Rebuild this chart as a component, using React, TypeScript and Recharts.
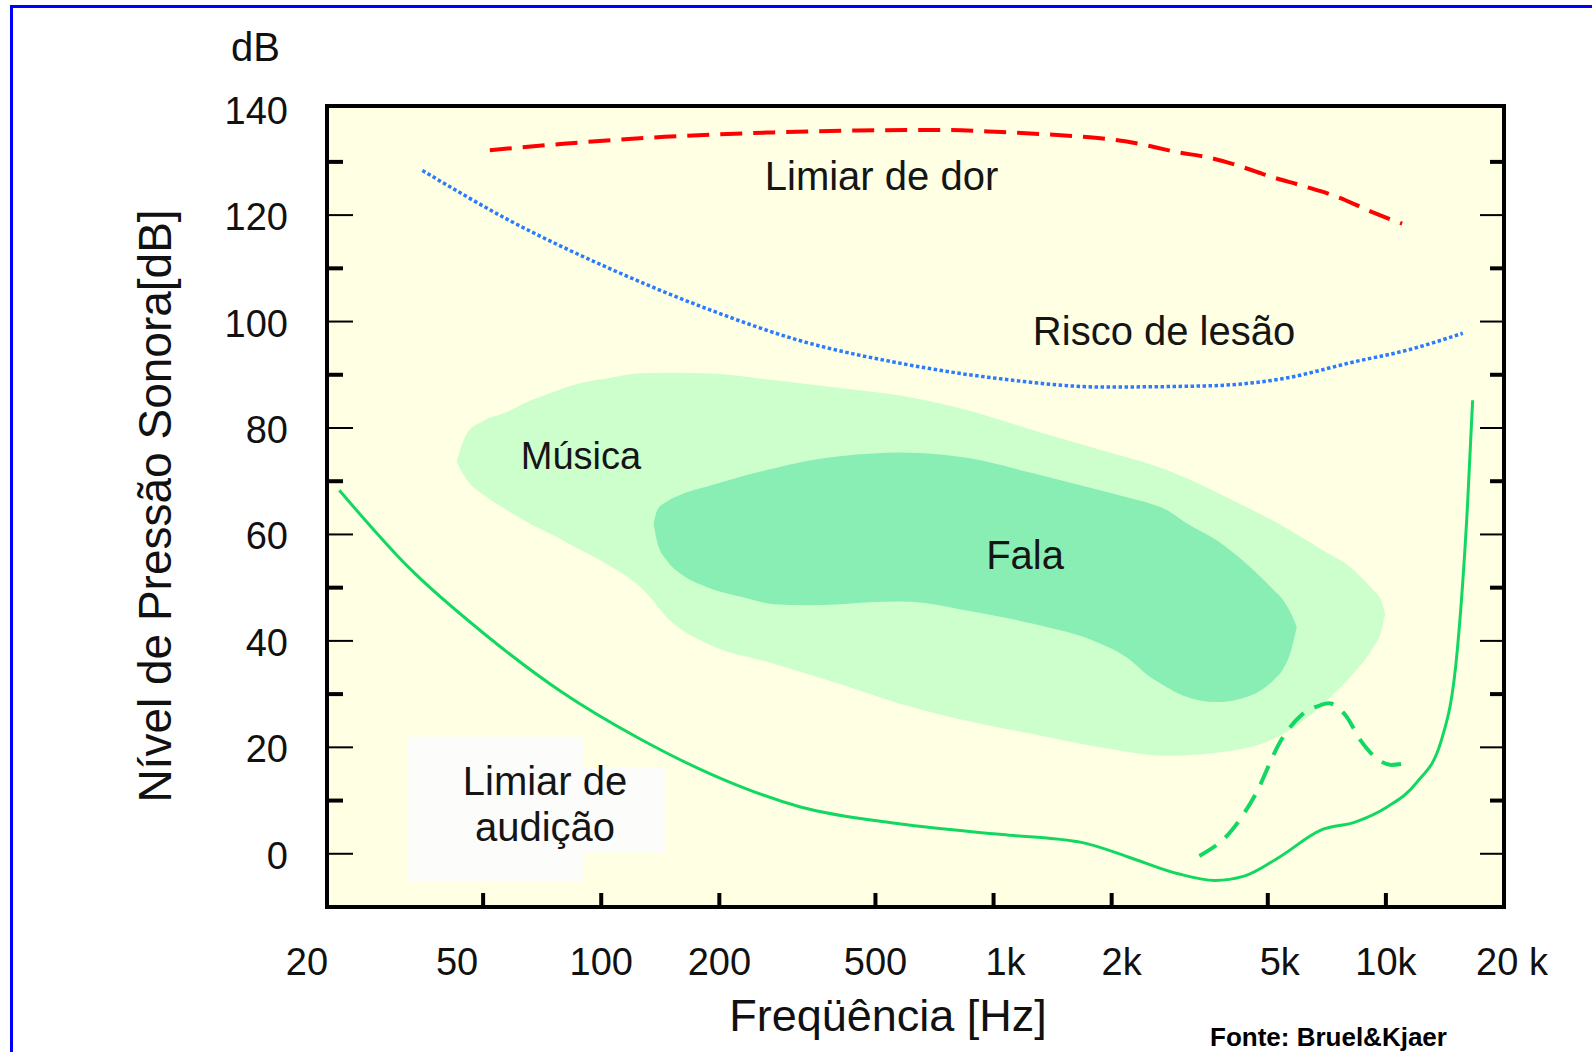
import { Area, CartesianGrid, ComposedChart, Line, ReferenceArea, ReferenceDot, XAxis, YAxis } from "recharts";

const FONT = '"Liberation Sans", Arial, sans-serif';

// eixo X (Hz, log) e eixo Y (dB)
const xTicks = [20, 50, 100, 200, 500, 1000, 2000, 5000, 10000, 20000];
const xTickLabels = ["20", "50", "100", "200", "500", "1k", "2k", "5k", "10k", "20 k"];
const yTicks = [0, 10, 20, 30, 40, 50, 60, 70, 80, 90, 100, 110, 120, 130, 140];

// Limiar de dor
const dorFreq = [52, 80, 145, 265, 450, 750, 1050, 1550, 2000, 2500, 2900, 3550, 4200, 5100, 6200, 7600, 9200, 11000];
const dorDb = [132.2, 133.4, 134.7, 135.5, 135.9, 136.0, 135.6, 134.9, 134.2, 133.0, 131.9, 130.8, 129.3, 127.2, 125.4, 123.3, 120.6, 118.4];

// Risco de lesão
const lesaoFreq = [35, 58, 107, 194, 318, 584, 1053, 1900, 3450, 5390, 8380, 11300, 15700];
const lesaoDb = [128.4, 119.1, 109.7, 101.9, 96.5, 92.1, 89.2, 87.7, 87.9, 89.2, 92.5, 94.6, 97.8];

// Limiar de audição
const audicaoFreq = [21.5, 32.2, 50.4, 79.3, 124, 194, 322, 580, 1053, 1687, 2205, 2972, 3660, 4352, 5360, 6805, 8381, 10024, 11990, 13832, 15212, 16150, 16636];
const audicaoDb = [68.3, 53.9, 41.3, 30.4, 21.8, 14.7, 8.8, 5.6, 3.6, 2.1, -0.6, -3.8, -5.0, -4.2, -0.6, 4.4, 6.0, 8.7, 13.4, 21.2, 38.4, 65.7, 85.2];

// limiar com perda (tracejado)
const perdaFreq = [3347, 4003, 4646, 5393, 6074, 6805, 7136, 7898, 8638, 9446, 10328, 11425];
const perdaDb = [-0.4, 4.0, 11.1, 21.2, 26.0, 27.9, 28.3, 26.0, 21.2, 18.0, 16.7, 17.1];

// Música (faixa)
const musicaFreq = [42.8, 45.5, 50, 57.4, 63, 77, 85, 103, 126, 153, 186, 275, 406, 578, 854, 1261, 1868, 2764, 4078, 5480, 7068, 8106, 9284, 9700, 9956];
const musicaLow = [73.6, 70.2, 67.5, 64.6, 62.8, 59.5, 57.8, 54.5, 50.1, 43.2, 39.5, 35.7, 31.9, 28.2, 25.0, 22.5, 20.0, 18.4, 19.4, 22.5, 28.8, 33.2, 38.8, 41.5, 45.1];
const musicaHigh = [73.6, 79.0, 81.3, 83.0, 84.5, 87.0, 88.1, 89.3, 90.3, 90.4, 90.3, 89.0, 87.5, 86.1, 83.4, 79.6, 75.9, 72.1, 66.4, 61.5, 56.6, 53.9, 49.5, 47.8, 45.1];

// Fala (faixa)
const falaFreq = [136, 139, 147, 160, 186, 230, 275, 334, 406, 494, 578, 650, 854, 1261, 1868, 2186, 2506, 2764, 3046, 3706, 4506, 5168, 5480, 5698, 5928];
const falaLow = [62.0, 58.5, 55.1, 52.5, 50.1, 48.2, 46.9, 46.7, 46.9, 47.3, 47.4, 47.2, 45.7, 43.2, 39.5, 36.9, 33.2, 31.3, 29.7, 28.5, 29.7, 32.6, 34.8, 37.6, 42.6];
const falaHigh = [62.0, 64.6, 66.2, 67.5, 69.0, 71.0, 72.4, 73.8, 74.7, 75.2, 75.4, 75.3, 74.4, 71.5, 68.3, 67.0, 65.8, 64.6, 62.5, 58.9, 53.9, 49.6, 47.6, 45.5, 42.6];

const toRows = (freq: number[], db: number[]) => freq.map((f, i) => ({ f, db: db[i] }));
const toRange = (freq: number[], low: number[], high: number[]) =>
  freq.map((f, i) => ({ f, range: [low[i], high[i]] }));

const labelNudge: Record<number, number> = { 20: -20, 50: -26, 1000: 12, 2000: 10, 5000: 12, 20000: 8 };

const BottomTick = (props: any) => {
  const { x, y, payload } = props;
  const v = payload.value;
  const inner = v > 20 && v < 20000;
  return (
    <g>
      {inner && <line x1={x} y1={y} x2={x} y2={y - 14} stroke="#000" strokeWidth={4} />}
      <text x={x + (labelNudge[v] ?? 0)} y={y + 68} textAnchor="middle" fontSize={38} fontFamily={FONT} fill="#111">
        {xTickLabels[xTicks.indexOf(v)]}
      </text>
    </g>
  );
};

const TopTick = (props: any) => {
  const { x, y, payload } = props;
  const v = payload.value;
  if (v <= 20 || v >= 20000) return <g />;
  return <line x1={x} y1={y} x2={x} y2={y + 12} stroke="#000" strokeWidth={4} />;
};

const LeftTick = (props: any) => {
  const { x, y, payload } = props;
  const v = payload.value;
  const major = v % 20 === 0;
  return (
    <g>
      {v < 140 && (
        <line x1={x} y1={y} x2={x + (major ? 26 : 16)} y2={y} stroke="#000" strokeWidth={major ? 2 : 4} />
      )}
      {major && (
        <text x={x - 39} y={y + 15} textAnchor="end" fontSize={38} fontFamily={FONT} fill="#111">
          {v}
        </text>
      )}
    </g>
  );
};

const RightTick = (props: any) => {
  const { x, y, payload } = props;
  const v = payload.value;
  if (v >= 140) return <g />;
  const major = v % 20 === 0;
  return <line x1={x} y1={y} x2={x - (major ? 24 : 14)} y2={y} stroke="#000" strokeWidth={major ? 2 : 4} />;
};

const frame = { stroke: "#000", strokeWidth: 4, strokeLinecap: "square" as const };

const textLabel = (value: string, size = 40) => ({
  value,
  position: "center" as const,
  fontSize: size,
  fill: "#151515",
  fontFamily: FONT,
});

const yDomain: [number, number] = [-10, 140.5];

export default function App() {
  return (
    <div style={{ position: "absolute", left: 0, top: 0, width: 1592, height: 1052, background: "#fff", overflow: "hidden" }}>
      <div
        style={{
          position: "absolute",
          left: 10,
          top: 5,
          width: 1600,
          height: 1100,
          borderTop: "3px solid #0000ff",
          borderLeft: "3px solid #0000ff",
        }}
      />
      <div style={{ position: "absolute", left: 0, top: 0 }}>
        <ComposedChart width={1592} height={1052} margin={{ top: 96, right: 68, bottom: 115, left: 267 }}>
          <CartesianGrid horizontal={false} vertical={false} fill="#FFFFE4" />
          <XAxis
            dataKey="f"
            type="number"
            scale="log"
            domain={[20, 20000]}
            ticks={xTicks}
            allowDataOverflow
            height={30}
            tickSize={0}
            tickMargin={0}
            tickLine={false}
            axisLine={frame}
            tick={BottomTick}
            interval={0}
          />
          <XAxis
            xAxisId="top"
            orientation="top"
            type="number"
            scale="log"
            domain={[20, 20000]}
            ticks={xTicks}
            allowDataOverflow
            height={10}
            tickSize={0}
            tickMargin={0}
            tickLine={false}
            axisLine={frame}
            tick={TopTick}
            interval={0}
          />
          <YAxis
            type="number"
            domain={yDomain}
            ticks={yTicks}
            allowDataOverflow
            width={60}
            tickSize={0}
            tickMargin={0}
            tickLine={false}
            axisLine={frame}
            tick={LeftTick}
            interval={0}
          />
          <YAxis
            yAxisId="right"
            orientation="right"
            type="number"
            domain={yDomain}
            ticks={yTicks}
            allowDataOverflow
            width={20}
            tickSize={0}
            tickMargin={0}
            tickLine={false}
            axisLine={frame}
            tick={RightTick}
            interval={0}
          />

          <ReferenceArea x1={32.2} x2={90.4} y1={-5.3} y2={22} fill="#FCFCFA" fillOpacity={1} stroke="none" />
          <ReferenceArea x1={90.4} x2={146} y1={0.2} y2={16.2} fill="#FCFCFA" fillOpacity={1} stroke="none" />

          <Area
            data={toRange(musicaFreq, musicaLow, musicaHigh)}
            dataKey="range"
            type="monotone"
            fill="#CCFFCC"
            fillOpacity={1}
            stroke="none"
            isAnimationActive={false}
          />
          <Area
            data={toRange(falaFreq, falaLow, falaHigh)}
            dataKey="range"
            type="monotone"
            fill="#88EEB4"
            fillOpacity={1}
            stroke="none"
            isAnimationActive={false}
          />

          <Line
            data={toRows(dorFreq, dorDb)}
            dataKey="db"
            type="monotone"
            stroke="#FF0000"
            strokeWidth={4}
            strokeDasharray="22 11"
            dot={false}
            isAnimationActive={false}
          />
          <Line
            data={toRows(lesaoFreq, lesaoDb)}
            dataKey="db"
            type="monotone"
            stroke="#2B7BFF"
            strokeWidth={3.5}
            strokeDasharray="3.5 2.5"
            dot={false}
            isAnimationActive={false}
          />
          <Line
            data={toRows(audicaoFreq, audicaoDb)}
            dataKey="db"
            type="monotone"
            stroke="#12D862"
            strokeWidth={3}
            dot={false}
            isAnimationActive={false}
          />
          <Line
            data={toRows(perdaFreq, perdaDb)}
            dataKey="db"
            type="monotone"
            stroke="#12D862"
            strokeWidth={4}
            strokeDasharray="20 12"
            dot={false}
            isAnimationActive={false}
          />

          <ReferenceDot x={518} y={127.4} r={1} fillOpacity={0} strokeOpacity={0} label={textLabel("Limiar de dor")} />
          <ReferenceDot x={2720} y={98.2} r={1} fillOpacity={0} strokeOpacity={0} label={textLabel("Risco de lesão")} />
          <ReferenceDot x={88.8} y={74.9} r={1} fillOpacity={0} strokeOpacity={0} label={textLabel("Música", 38)} />
          <ReferenceDot x={1203} y={56.1} r={1} fillOpacity={0} strokeOpacity={0} label={textLabel("Fala")} />
          <ReferenceDot x={71.9} y={13.7} r={1} fillOpacity={0} strokeOpacity={0} label={textLabel("Limiar de")} />
          <ReferenceDot x={71.9} y={5.1} r={1} fillOpacity={0} strokeOpacity={0} label={textLabel("audição")} />
        </ComposedChart>
      </div>
      <svg width={1592} height={1052} style={{ position: "absolute", left: 0, top: 0, pointerEvents: "none" }}>
        <text x={231} y={61} fontSize={40} fontFamily={FONT} fill="#111">
          dB
        </text>
        <text
          x={0}
          y={0}
          transform="translate(171 506) rotate(-90)"
          textAnchor="middle"
          fontSize={46}
          fontFamily={FONT}
          fill="#111"
        >
          Nível de Pressão Sonora[dB]
        </text>
        <text x={888} y={1031} textAnchor="middle" fontSize={45} fontFamily={FONT} fill="#111">
          Freqüência [Hz]
        </text>
        <text x={1210} y={1046} fontSize={26} fontWeight="bold" fontFamily={FONT} fill="#000">
          Fonte: Bruel&amp;Kjaer
        </text>
      </svg>
    </div>
  );
}
